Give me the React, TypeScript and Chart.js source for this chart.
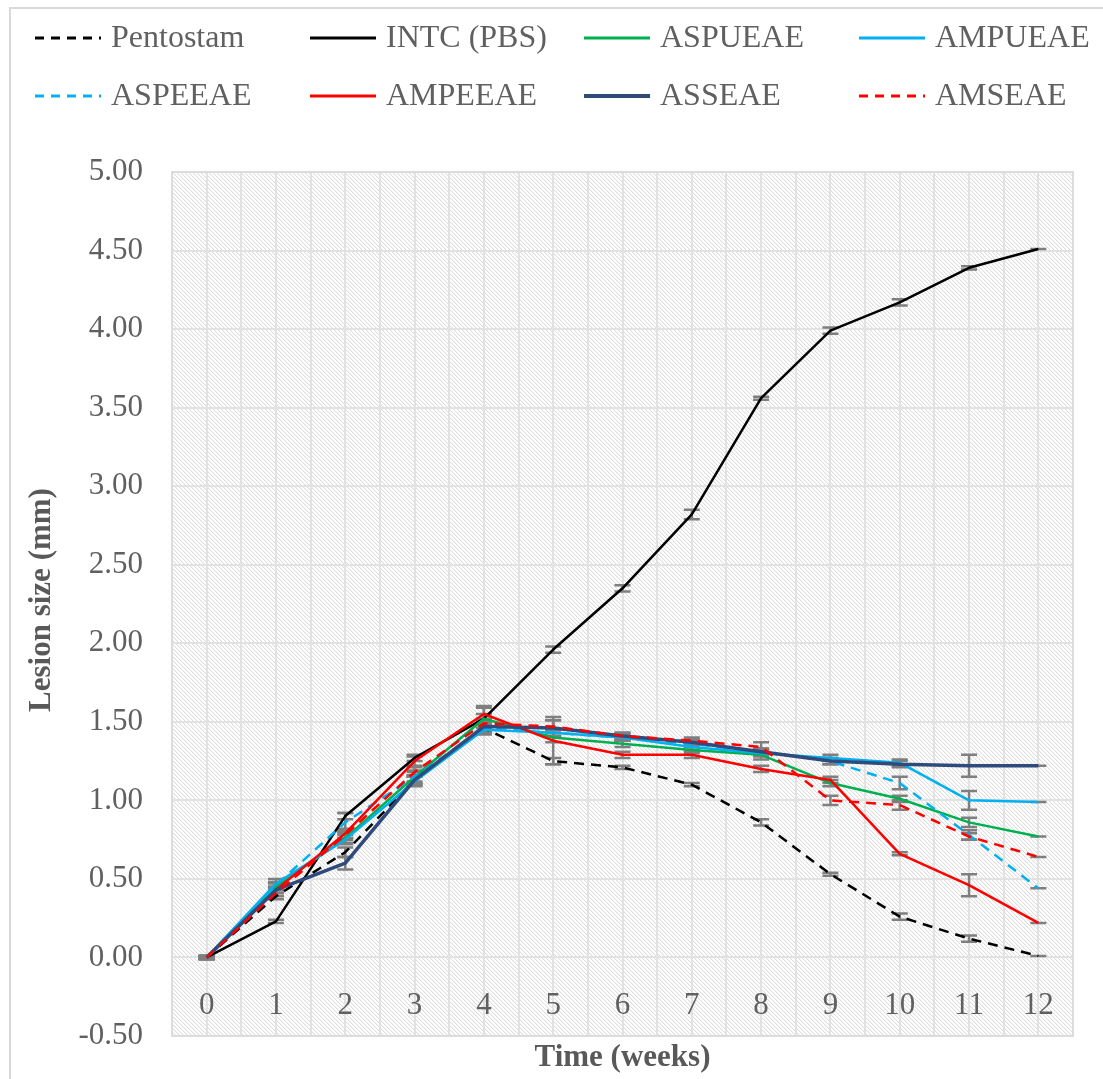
import React, { useEffect, useRef } from 'react';
import { Chart, registerables } from 'chart.js';

Chart.register(...registerables);

// ---- data ----
const weeks = [0, 1, 2, 3, 4, 5, 6, 7, 8, 9, 10, 11, 12];
const seriesNames = ['Pentostam', 'INTC (PBS)', 'ASPUEAE', 'AMPUEAE', 'ASPEEAE', 'AMPEEAE', 'ASSEAE', 'AMSEAE'];
const pentostam = [0, 0.39, 0.67, 1.13, 1.46, 1.25, 1.21, 1.10, 0.86, 0.53, 0.26, 0.12, 0.01];
const intc = [0, 0.23, 0.90, 1.27, 1.52, 1.96, 2.35, 2.82, 3.56, 3.99, 4.17, 4.39, 4.51];
const aspueae = [0, 0.45, 0.76, 1.15, 1.52, 1.40, 1.36, 1.32, 1.29, 1.11, 1.01, 0.86, 0.77];
const ampueae = [0, 0.47, 0.75, 1.12, 1.45, 1.43, 1.40, 1.34, 1.30, 1.27, 1.24, 1.00, 0.99];
const aspeeae = [0, 0.46, 0.86, 1.15, 1.46, 1.43, 1.40, 1.36, 1.31, 1.25, 1.11, 0.78, 0.44];
const ampeeae = [0, 0.43, 0.79, 1.25, 1.55, 1.38, 1.29, 1.29, 1.20, 1.13, 0.66, 0.46, 0.22];
const asseae = [0, 0.43, 0.60, 1.13, 1.47, 1.46, 1.41, 1.37, 1.31, 1.25, 1.23, 1.22, 1.22];
const amseae = [0, 0.41, 0.78, 1.18, 1.49, 1.47, 1.41, 1.38, 1.34, 1.00, 0.97, 0.77, 0.64];

// standard errors (approx.)
const pentostamErr = [0.01, 0.02, 0.03, 0.03, 0.02, 0.02, 0.01, 0.01, 0.02, 0.01, 0.02, 0.02, 0.0];
const intcErr = [0.01, 0.01, 0.02, 0.02, 0.03, 0.02, 0.02, 0.03, 0.01, 0.02, 0.02, 0.01, 0.0];
const aspueaeErr = [0.01, 0.02, 0.03, 0.03, 0.08, 0.03, 0.02, 0.02, 0.03, 0.02, 0.02, 0.03, 0.0];
const ampueaeErr = [0.01, 0.03, 0.03, 0.03, 0.03, 0.02, 0.02, 0.02, 0.02, 0.02, 0.02, 0.06, 0.0];
const aspeeaeErr = [0.01, 0.02, 0.06, 0.04, 0.03, 0.02, 0.02, 0.02, 0.02, 0.02, 0.04, 0.03, 0.0];
const ampeeaeErr = [0.01, 0.02, 0.03, 0.03, 0.04, 0.15, 0.02, 0.02, 0.02, 0.02, 0.01, 0.07, 0.0];
const asseaeErr = [0.01, 0.02, 0.04, 0.03, 0.03, 0.05, 0.02, 0.02, 0.02, 0.02, 0.02, 0.07, 0.0];
const amseaeErr = [0.01, 0.02, 0.03, 0.03, 0.03, 0.04, 0.02, 0.02, 0.03, 0.03, 0.03, 0.02, 0.0];

const yTicksMin = -0.5;
const yTicksMax = 5.0;
const yStep = 0.5;

const seriesValues = [pentostam, intc, aspueae, ampueae, aspeeae, ampeeae, asseae, amseae];
const seriesErrors = [pentostamErr, intcErr, aspueaeErr, ampueaeErr, aspeeaeErr, ampeeaeErr, asseaeErr, amseaeErr];
const seriesColors = ['#000000', '#000000', '#00b050', '#00b0f0', '#00b0f0', '#ff0000', '#2f4b7c', '#ff0000'];
const seriesDashed = [true, false, false, false, true, false, false, true];
const seriesWidths = [2.5, 2.5, 2.5, 2.5, 2.5, 2.5, 3.5, 2.5];

const FONT = '"Liberation Serif", "Times New Roman", serif';
const TEXT = '#606060';
const GRID = '#e2e2e2';
const DASH = [10, 7];

function makePattern(): CanvasPattern | string {
  const c = document.createElement('canvas');
  c.width = 8;
  c.height = 8;
  const cx = c.getContext('2d');
  if (!cx) return '#f4f4f4';
  const img = cx.createImageData(8, 8);
  for (let y = 0; y < 8; y++) {
    for (let x = 0; x < 8; x++) {
      const m = (((x - y) % 4) + 4) % 4;
      const v = m === 0 ? 222 : m === 1 ? 244 : 255;
      const i = (y * 8 + x) * 4;
      img.data[i] = v;
      img.data[i + 1] = v;
      img.data[i + 2] = v;
      img.data[i + 3] = 255;
    }
  }
  cx.putImageData(img, 0, 0);
  return cx.createPattern(c, 'repeat') || '#f4f4f4';
}

export default function App() {
  const ref = useRef<HTMLCanvasElement | null>(null);

  useEffect(() => {
    if (!ref.current) return;
    const pattern = makePattern();

    const bgPlugin = {
      id: 'bgPlugin',
      beforeDraw(chart: any) {
        const { ctx, chartArea: a, width, height } = chart;
        ctx.save();
        ctx.fillStyle = '#ffffff';
        ctx.fillRect(0, 0, width, height);
        // outer figure border
        ctx.strokeStyle = '#d9d9d9';
        ctx.lineWidth = 2;
        ctx.beginPath();
        ctx.moveTo(10, height + 5);
        ctx.lineTo(10, 8);
        ctx.lineTo(width + 5, 8);
        ctx.stroke();
        // hatched plot area
        ctx.fillStyle = pattern;
        ctx.fillRect(a.left, a.top, a.right - a.left, a.bottom - a.top);

        // legend
        const colX = [35, 310, 584, 859];
        const rowY = [38, 96];
        ctx.font = `32px ${FONT}`;
        ctx.textBaseline = 'middle';
        ctx.textAlign = 'left';
        seriesNames.forEach((name, i) => {
          const x0 = colX[i % 4];
          const y0 = rowY[Math.floor(i / 4)];
          ctx.strokeStyle = seriesColors[i];
          ctx.lineWidth = seriesWidths[i] + 0.5;
          ctx.setLineDash(seriesDashed[i] ? [9, 7] : []);
          ctx.beginPath();
          ctx.moveTo(x0, y0);
          ctx.lineTo(x0 + 66, y0);
          ctx.stroke();
          ctx.setLineDash([]);
          ctx.fillStyle = TEXT;
          ctx.fillText(name, x0 + 76, y0 + 1);
        });

        // axis titles
        ctx.font = `bold 31px ${FONT}`;
        ctx.fillStyle = '#595959';
        ctx.textAlign = 'center';
        ctx.textBaseline = 'middle';
        ctx.fillText('Time (weeks)', (a.left + a.right) / 2, 1058);
        ctx.save();
        ctx.translate(42, (a.top + a.bottom) / 2 - 4);
        ctx.rotate(-Math.PI / 2);
        ctx.fillText('Lesion size (mm)', 0, 0);
        ctx.restore();
        ctx.restore();
      },
      beforeDatasetsDraw(chart: any) {
        const { ctx, chartArea: a, scales } = chart;
        const xs = scales.x;
        const ys = scales.y;
        ctx.save();
        // plot border
        ctx.strokeStyle = '#dcdcdc';
        ctx.lineWidth = 2;
        ctx.strokeRect(a.left, a.top, a.right - a.left, a.bottom - a.top);
        // error bars
        ctx.strokeStyle = '#7f7f7f';
        ctx.lineWidth = 2.5;
        seriesValues.forEach((vals, i) => {
          const errs = seriesErrors[i];
          vals.forEach((v, j) => {
            const x = xs.getPixelForValue(weeks[j]);
            const yHi = ys.getPixelForValue(v + errs[j]);
            const yLo = ys.getPixelForValue(v - errs[j]);
            ctx.beginPath();
            ctx.moveTo(x, yHi);
            ctx.lineTo(x, yLo);
            ctx.moveTo(x - 8, yHi);
            ctx.lineTo(x + 8, yHi);
            ctx.moveTo(x - 8, yLo);
            ctx.lineTo(x + 8, yLo);
            ctx.stroke();
          });
        });
        ctx.restore();
      },
    };

    const n = seriesNames.length;
    const datasets = seriesNames.map((name, i) => ({
      label: name,
      data: weeks.map((w, j) => ({ x: w, y: seriesValues[i][j] })),
      borderColor: seriesColors[i],
      backgroundColor: seriesColors[i],
      borderWidth: seriesWidths[i],
      borderDash: seriesDashed[i] ? DASH : [],
      borderJoinStyle: 'round',
      pointRadius: 0,
      tension: 0,
      fill: false,
      order: n - i,
    }));

    const chart = new Chart(ref.current, {
      type: 'line',
      data: { datasets },
      options: {
        responsive: false,
        animation: false,
        events: [],
        layout: { padding: { left: 0, top: 172, right: 30, bottom: 43 } },
        plugins: {
          legend: { display: false },
          tooltip: { enabled: false },
          title: { display: false },
        },
        scales: {
          x: {
            type: 'linear',
            min: -0.5,
            max: 12.5,
            position: { y: 0 },
            ticks: {
              stepSize: 0.5,
              autoSkip: false,
              maxRotation: 0,
              padding: 30,
              color: TEXT,
              font: { family: FONT, size: 31 },
              callback: (v: any) => (weeks.includes(Number(v)) ? String(v) : ''),
            },
            grid: { color: GRID, lineWidth: 2, drawTicks: false },
            border: { display: false },
            afterFit: (s: any) => {
              s.paddingTop = 0;
              s.paddingBottom = 0;
            },
          },
          y: {
            type: 'linear',
            min: yTicksMin,
            max: yTicksMax,
            ticks: {
              stepSize: yStep,
              padding: 29,
              color: TEXT,
              font: { family: FONT, size: 31 },
              callback: (v: any) => Number(v).toFixed(2),
            },
            grid: { color: GRID, lineWidth: 2, drawTicks: false },
            border: { display: false },
            afterFit: (s: any) => {
              s.width = 172;
              s.paddingTop = 0;
              s.paddingBottom = 0;
            },
          },
        },
      },
      plugins: [bgPlugin],
    } as any);

    return () => chart.destroy();
  }, []);

  return (
    <div style={{ position: 'absolute', left: 0, top: 0, width: 1103, height: 1079, overflow: 'hidden' }}>
      <canvas ref={ref} width={1103} height={1079} style={{ display: 'block' }} />
    </div>
  );
}
